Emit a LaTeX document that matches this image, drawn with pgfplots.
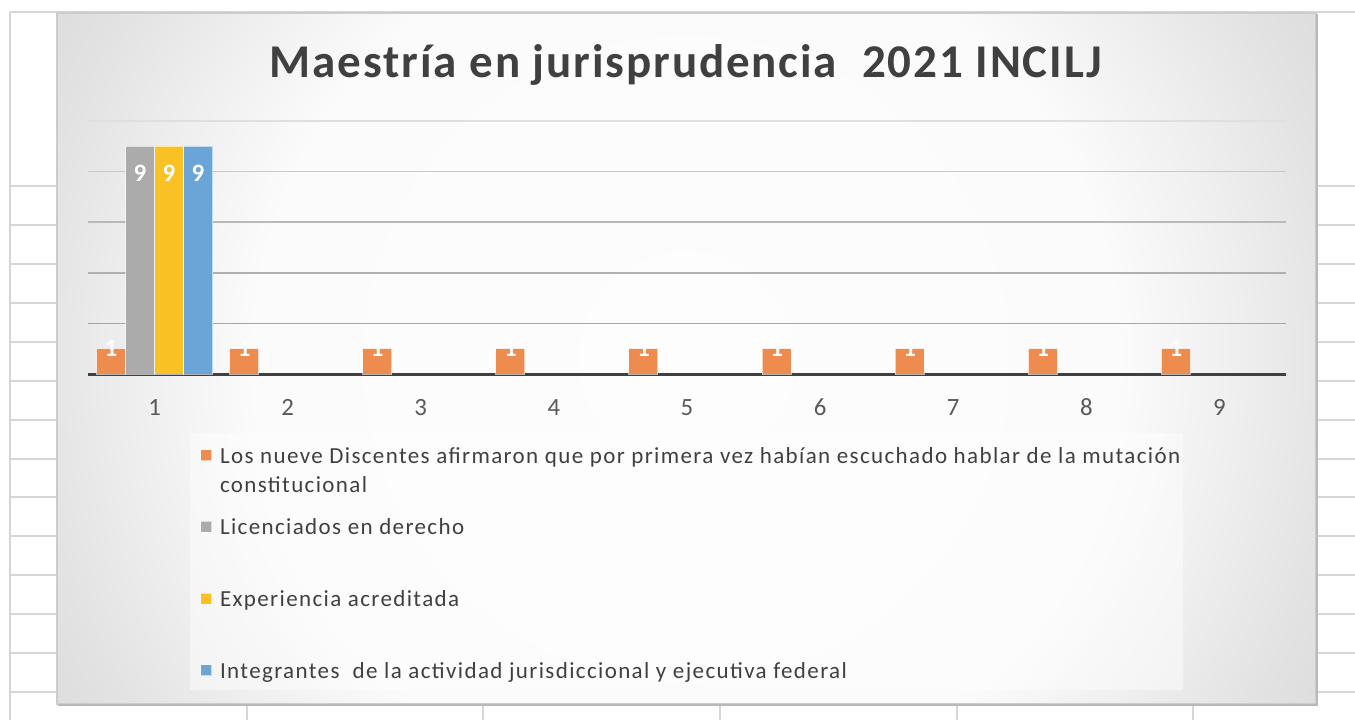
\documentclass[border=0pt]{standalone}
\usepackage{pgfplots}
\pgfplotsset{compat=1.18}
\usepackage{fontspec}
\setmainfont{Carlito}
\newfontfamily\titlefont{Carlito}[LetterSpace=4]
\newfontfamily\legfont{Carlito}[LetterSpace=6]
\definecolor{cOrange}{HTML}{EE8B4E}
\definecolor{cGray}{HTML}{ABABAB}
\definecolor{cYellow}{HTML}{FAC125}
\definecolor{cBlue}{HTML}{6BA4D7}
\definecolor{txt}{HTML}{404040}
\definecolor{tickc}{HTML}{595959}
\definecolor{sheet}{HTML}{D6D6D6}
\definecolor{bg0}{HTML}{FDFDFD}
\definecolor{bg1}{HTML}{FBFBFB}
\definecolor{bg2}{HTML}{EFEFEF}
\definecolor{bg3}{HTML}{E2E2E2}
\definecolor{bg4}{HTML}{D6D6D6}
\definecolor{bg5}{HTML}{CCCCCC}
\definecolor{bg6}{HTML}{C2C2C2}
\definecolor{bg7}{HTML}{BDBDBD}
\pgfdeclareradialshading{chartbg}{\pgfpoint{0bp}{0bp}}{color(0bp)=(bg0); color(15bp)=(bg1); color(19bp)=(bg2); color(23bp)=(bg3); color(28bp)=(bg4); color(35bp)=(bg5); color(40bp)=(bg6); color(50bp)=(bg7); color(100bp)=(bg7)}
\begin{document}
\begin{tikzpicture}[x=0.5pt,y=0.5pt]
\fill[white] (0,0) rectangle (1355,720);
\foreach \yy in {12,186,225,264,303,342,381,420,459,497,536,575,614,653,692}
  \draw[sheet, line width=1pt] (10,{720-\yy}) -- (1355,{720-\yy});
\foreach \xx in {10,247,483,720,957,1193}
  \draw[sheet, line width=1pt] (\xx,0) -- (\xx,708);
\begin{scope}
\clip (57,16) rectangle (1316,707);
\shade[shading=chartbg] (-34,-359) rectangle (1406,1081);
\end{scope}
\draw[gray!40, line width=0.6pt] (57,16) rectangle (1316,707);
\draw[gray!55, line width=0.8pt] (58,15) -- (1317,15) -- (1317,706);
\fill[white, opacity=0.45] (190,30) rectangle (1183,287);
\node[anchor=base, font=\titlefont\fontsize{23.5}{28}\selectfont\bfseries, text=txt, inner sep=0pt] at (686,643) {Maestría en jurisprudencia\ \ 2021 INCILJ};
\begin{axis}[
  at={(44pt,173pt)}, anchor=south west,
  scale only axis, width=599pt, height=126.5pt,
  xmin=0.5, xmax=9.5, ymin=0, ymax=10,
  ybar=0pt, bar width=14.5pt,
  xtick={1,...,9}, ytick=\empty,
  major tick length=0pt,
  axis x line*=bottom, axis y line=none,
  x axis line style={draw=txt, line width=1.5pt},
  xticklabel style={anchor=base, yshift=-20.5pt, font=\fontsize{12.4}{14}\selectfont, text=tickc},
  /pgf/number format/assume math mode=true,
  clip=false,
  every axis plot/.append style={draw=white, draw opacity=0.6, line width=0.5pt},
  legend cell align=left,
  legend style={at={(0.0935,-0.2727)}, anchor=north west, draw=none, fill=none,
    inner sep=0pt, outer sep=0pt, row sep=0pt, column sep=0pt,
    cells={anchor=base west},
    nodes={inner sep=0pt, text height=10.15pt, text depth=25.65pt, text=txt, font=\legfont\fontsize{11.5}{14.5}\selectfont}},
  legend image code/.code={\fill[#1] (0pt,1.25pt) rectangle (5.5pt,6.75pt); \path (0pt,0pt) -- (9.5pt,0pt);},
  nodes near coords,
  every node near coord/.append style={font=\fontsize{12.5}{14}\selectfont\bfseries, text=white, anchor=center, draw=none, text height=, text depth=},
]
\draw[color=gray!25, line width=0.8pt] (axis cs:0.5,10) -- (axis cs:9.5,10);
\draw[color=gray!42, line width=0.8pt] (axis cs:0.5,8) -- (axis cs:9.5,8);
\draw[color=gray!55, line width=0.8pt] (axis cs:0.5,6) -- (axis cs:9.5,6);
\draw[color=gray!62, line width=0.8pt] (axis cs:0.5,4) -- (axis cs:9.5,4);
\draw[color=gray!70, line width=0.8pt] (axis cs:0.5,2) -- (axis cs:9.5,2);
\addplot[fill=cOrange, every node near coord/.append style={yshift=0pt}] coordinates {(1,1) (2,1) (3,1) (4,1) (5,1) (6,1) (7,1) (8,1) (9,1)};
\addlegendentry{\parbox[t]{500pt}{\strut Los nueve Discentes afirmaron que por primera vez habían escuchado hablar de la mutación\\constitucional}}
\addplot[fill=cGray, every node near coord/.append style={yshift=-13.25pt}] coordinates {(1,9)};
\addlegendentry{\strut Licenciados en derecho}
\addplot[fill=cYellow, every node near coord/.append style={yshift=-13.25pt}] coordinates {(1,9)};
\addlegendentry{\strut Experiencia acreditada}
\addplot[fill=cBlue, every node near coord/.append style={yshift=-13.25pt}] coordinates {(1,9)};
\addlegendentry{\strut Integrantes\ \ de la actividad jurisdiccional y ejecutiva federal}
\end{axis}
\pgfresetboundingbox
\useasboundingbox (0,0) rectangle (1355,720);
\end{tikzpicture}
\end{document}
